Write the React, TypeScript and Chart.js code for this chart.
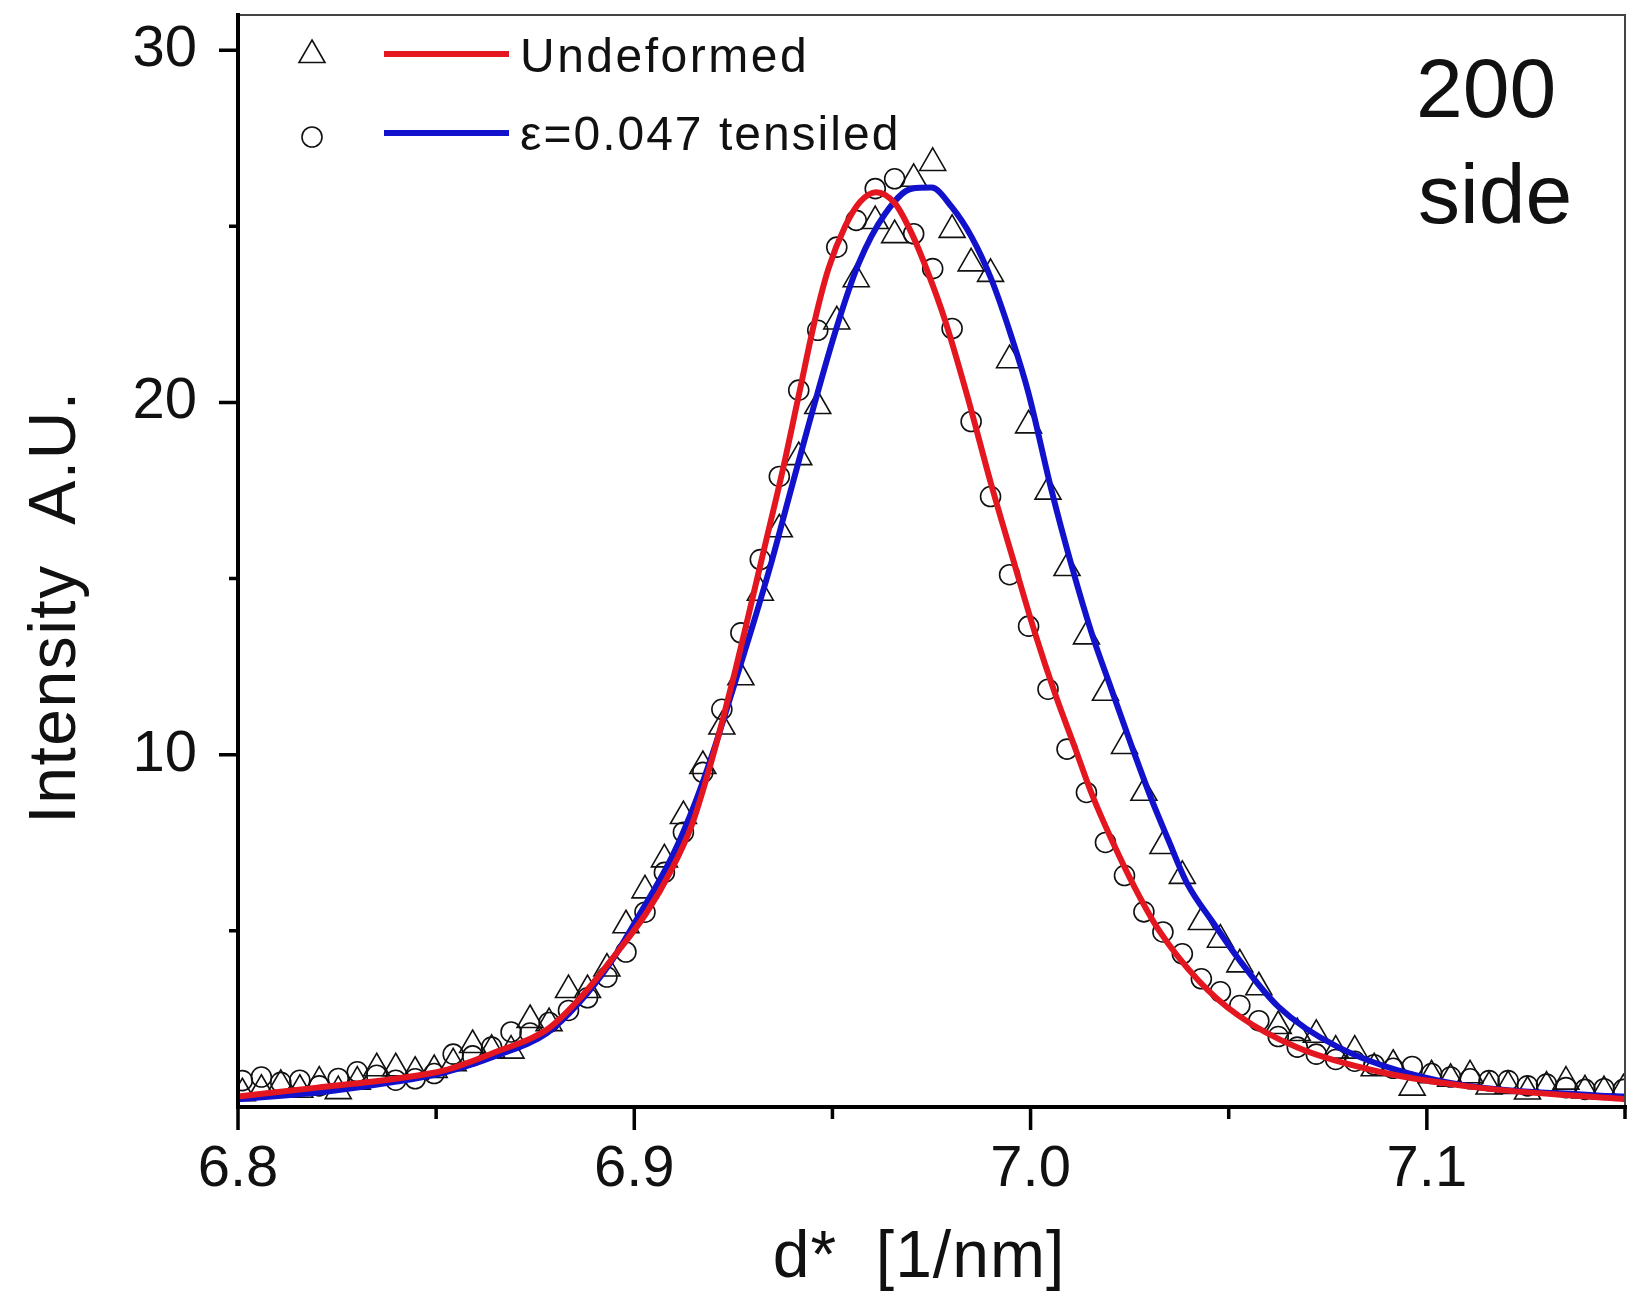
import React, { useEffect, useRef } from 'react';
import { Chart, registerables } from 'chart.js';

Chart.register(...registerables);

const W = 1628;
const H = 1308;
const FONT = '"Liberation Sans", Arial, Helvetica, sans-serif';
const RED = 'rgb(228, 22, 32)';
const BLUE = 'rgb(18, 18, 205)';

// measured data grid (d*, 1/nm)
const xGrid = [
  6.8011, 6.8059, 6.8108, 6.8156, 6.8205, 6.8253, 6.8301, 6.835, 6.8398, 6.8447,
  6.8495, 6.8543, 6.8592, 6.864, 6.8689, 6.8737, 6.8785, 6.8834, 6.8882, 6.8931,
  6.8979, 6.9027, 6.9076, 6.9124, 6.9173, 6.9221, 6.9269, 6.9318, 6.9366, 6.9415,
  6.9463, 6.9511, 6.956, 6.9608, 6.9657, 6.9705, 6.9753, 6.9802, 6.985, 6.9899,
  6.9947, 6.9995, 7.0044, 7.0092, 7.0141, 7.0189, 7.0237, 7.0286, 7.0334, 7.0383,
  7.0431, 7.0479, 7.0528, 7.0576, 7.0625, 7.0673, 7.0721, 7.077, 7.0818, 7.0867,
  7.0915, 7.0963, 7.1012, 7.106, 7.1109, 7.1157, 7.1205, 7.1254, 7.1302, 7.1351,
  7.1399, 7.1447, 7.1496,
];

// triangles (legend: Undeformed)
const triangleY = [
  0.39, 0.49, 0.63, 0.49, 0.72, 0.45, 0.72, 1.1, 1.1, 1.0,
  1.05, 1.24, 1.76, 1.62, 1.6, 2.47, 2.38, 3.32, 3.32, 3.93,
  5.16, 6.15, 7.03, 8.26, 9.68, 10.8, 12.2, 14.6, 16.4, 18.45,
  19.9, 22.3, 23.5, 25.15, 24.75, 26.35, 26.8, 24.9, 23.95, 23.65,
  21.2, 19.35, 17.47, 15.3, 13.36, 11.76, 10.25, 8.92, 7.41, 6.56,
  5.25, 4.75, 4.05, 3.4, 2.3, 2.1, 2.05, 1.6, 1.6, 1.1,
  1.2, 0.55, 0.9, 0.8, 0.9, 0.58, 0.6, 0.44, 0.58, 0.72,
  0.47, 0.45, 0.5,
];

// circles (legend: ε=0.047 tensiled)
const circleY = [
  0.75, 0.85, 0.7, 0.76, 0.6, 0.81, 1.0, 0.9, 0.76, 0.8,
  0.95, 1.5, 1.45, 1.7, 2.13, 2.1, 2.4, 2.74, 3.1, 3.69,
  4.4, 5.53, 6.66, 7.8, 9.5, 11.29, 13.46, 15.54, 17.9, 20.35,
  22.05, 24.41, 25.17, 26.07, 26.35, 24.79, 23.8, 22.1, 19.46, 17.33,
  15.11, 13.65, 11.86, 10.16, 8.93, 7.51, 6.57, 5.54, 4.97, 4.35,
  3.64, 3.27, 2.88, 2.45, 2.0, 1.7, 1.5, 1.35, 1.3, 1.2,
  1.1, 1.15, 0.95, 0.85, 0.8, 0.75, 0.75, 0.6, 0.65, 0.55,
  0.5, 0.52, 0.5,
];

// red fitted curve
const redFitX = [
  6.8, 6.82, 6.84, 6.852, 6.865, 6.878, 6.886, 6.894, 6.903, 6.9095,
  6.9145, 6.9188, 6.9221, 6.9255, 6.9288, 6.9331, 6.9373, 6.9415, 6.9457, 6.949,
  6.9532, 6.957, 6.961, 6.9658, 6.97, 6.9742, 6.9784, 6.984, 6.99, 6.9961,
  7.0011, 7.0061, 7.0112, 7.0154, 7.0204, 7.0262, 7.0322, 7.0423, 7.0524, 7.0675,
  7.088, 7.113, 7.15,
];
const redFitY = [
  0.3, 0.55, 0.81, 1.04, 1.56, 2.2, 3.05, 4.15, 5.5, 6.76,
  8.0, 9.55, 10.9, 12.4, 13.95, 16.0, 18.0, 20.2, 22.4, 23.8,
  25.0, 25.7, 25.97, 25.65, 24.8, 23.66, 22.34, 20.2, 17.7, 15.35,
  13.46, 11.76, 10.2, 8.9, 7.6, 6.25, 5.05, 3.6, 2.6, 1.68,
  1.0, 0.55, 0.22,
];

// blue fitted curve
const blueFitX = [
  6.8, 6.823, 6.84, 6.852, 6.865, 6.878, 6.886, 6.894, 6.901, 6.9095,
  6.9154, 6.9204, 6.9246, 6.9297, 6.9347, 6.939, 6.9436, 6.9507, 6.9566, 6.9633,
  6.97, 6.975, 6.9801, 6.9851, 6.9902, 6.9952, 6.9994, 7.0053, 7.0104, 7.0154,
  7.0204, 7.0255, 7.0305, 7.0347, 7.0395, 7.0463, 7.0525, 7.0625, 7.0776, 7.103,
  7.143, 7.15,
];
const blueFitY = [
  0.22, 0.45, 0.72, 0.98, 1.45, 2.1, 2.95, 4.1, 5.4, 7.1,
  8.65, 10.25, 11.76, 13.6, 15.5, 17.3, 19.2, 22.0, 23.94, 25.36,
  26.07, 26.1, 25.55, 24.7, 23.47, 21.86, 20.3, 17.5, 15.35, 13.46,
  11.86, 10.25, 8.74, 7.6, 6.35, 5.2, 4.2, 2.85, 1.7, 0.75,
  0.33, 0.3,
];

const xMajorTicks = [6.8, 6.9, 7.0, 7.1];
const xTickLabels = ['6.8', '6.9', '7.0', '7.1'];
const xMinorTicks = [6.85, 6.95, 7.05, 7.15];
const yMajorTicks = [10, 20, 30];
const yTickLabels = ['10', '20', '30'];
const yMinorTicks = [5, 15, 25];

const legendLabels = ['Undeformed', 'ε=0.047 tensiled'];
const panelLabels = ['200', 'side'];
const xTitle = 'd*  [1/nm]';
const yTitle = 'Intensity  A.U.';

function labelFor(values: number[], labels: string[], v: number): string {
  const i = values.findIndex((t) => Math.abs(t - v) < 1e-9);
  return i >= 0 ? labels[i] : '';
}

function drawTriangle(ctx: CanvasRenderingContext2D, x: number, y: number, r: number) {
  ctx.beginPath();
  ctx.moveTo(x, y - r);
  ctx.lineTo(x + r * 0.866, y + r / 2);
  ctx.lineTo(x - r * 0.866, y + r / 2);
  ctx.closePath();
  ctx.stroke();
}

const decorPlugin = {
  id: 'decor',
  afterDraw(chart: any) {
    const { ctx, chartArea: a } = chart;
    const xs = chart.scales.x;
    const ys = chart.scales.y;
    ctx.save();

    // top and right frame (thin)
    ctx.strokeStyle = '#444';
    ctx.lineWidth = 2;
    ctx.beginPath();
    ctx.moveTo(a.left, a.top);
    ctx.lineTo(a.right, a.top);
    ctx.lineTo(a.right, a.bottom);
    ctx.stroke();

    // left and bottom axes (thick)
    ctx.strokeStyle = '#000';
    ctx.lineWidth = 4;
    ctx.lineCap = 'square';
    ctx.beginPath();
    ctx.moveTo(a.left, a.top);
    ctx.lineTo(a.left, a.bottom);
    ctx.lineTo(a.right, a.bottom);
    ctx.stroke();

    // ticks
    ctx.lineCap = 'butt';
    ctx.lineWidth = 3.5;
    ctx.beginPath();
    xMajorTicks.forEach((v) => {
      const p = xs.getPixelForValue(v);
      ctx.moveTo(p, a.bottom);
      ctx.lineTo(p, a.bottom + 23);
    });
    xMinorTicks.forEach((v) => {
      const p = xs.getPixelForValue(v);
      ctx.moveTo(p, a.bottom);
      ctx.lineTo(p, a.bottom + 12);
    });
    yMajorTicks.forEach((v) => {
      const p = ys.getPixelForValue(v);
      ctx.moveTo(a.left - 19, p);
      ctx.lineTo(a.left, p);
    });
    yMinorTicks.forEach((v) => {
      const p = ys.getPixelForValue(v);
      ctx.moveTo(a.left - 9, p);
      ctx.lineTo(a.left, p);
    });
    ctx.stroke();

    // legend
    ctx.strokeStyle = '#111';
    ctx.lineWidth = 1.6;
    drawTriangle(ctx, 312, 55, 15);
    ctx.beginPath();
    ctx.arc(312, 137, 10, 0, Math.PI * 2);
    ctx.stroke();

    ctx.lineWidth = 6;
    ctx.strokeStyle = RED;
    ctx.beginPath();
    ctx.moveTo(384, 54);
    ctx.lineTo(509, 54);
    ctx.stroke();
    ctx.strokeStyle = BLUE;
    ctx.beginPath();
    ctx.moveTo(384, 133);
    ctx.lineTo(509, 133);
    ctx.stroke();

    ctx.fillStyle = '#111';
    ctx.textAlign = 'left';
    ctx.textBaseline = 'alphabetic';
    ctx.font = `48px ${FONT}`;
    (ctx as any).letterSpacing = '2.5px';
    ctx.fillText(legendLabels[0], 520, 72);
    (ctx as any).letterSpacing = '2px';
    ctx.fillText(legendLabels[1], 520, 150);

    // panel label
    (ctx as any).letterSpacing = '0px';
    ctx.font = `84px ${FONT}`;
    ctx.fillText(panelLabels[0], 1416, 117);
    ctx.fillText(panelLabels[1], 1418, 223);

    // axis titles
    ctx.font = `66px ${FONT}`;
    ctx.textAlign = 'center';
    (ctx as any).letterSpacing = '1px';
    ctx.fillText(xTitle, 919, 1277);
    ctx.save();
    ctx.translate(75, 607);
    ctx.rotate(-Math.PI / 2);
    (ctx as any).letterSpacing = '1.5px';
    ctx.fillText(yTitle, 0, 0);
    ctx.restore();

    ctx.restore();
  },
};

export default function App() {
  const canvasRef = useRef<HTMLCanvasElement | null>(null);

  useEffect(() => {
    const canvas = canvasRef.current;
    if (!canvas) return;
    const tickFont = { family: FONT, size: 58 };

    const chart = new Chart(canvas, {
      type: 'line',
      data: {
        datasets: [
          {
            label: 'fit red',
            data: redFitX.map((x, i) => ({ x, y: redFitY[i] })),
            borderColor: RED,
            borderWidth: 6,
            pointRadius: 0,
            fill: false,
            cubicInterpolationMode: 'monotone',
            order: 0,
          },
          {
            label: 'fit blue',
            data: blueFitX.map((x, i) => ({ x, y: blueFitY[i] })),
            borderColor: BLUE,
            borderWidth: 6,
            pointRadius: 0,
            fill: false,
            cubicInterpolationMode: 'monotone',
            order: 1,
          },
          {
            label: legendLabels[0],
            data: xGrid.map((x, i) => ({ x, y: triangleY[i] })),
            showLine: false,
            pointStyle: 'triangle',
            pointRadius: 15,
            pointBorderWidth: 1.6,
            pointBorderColor: '#111',
            pointBackgroundColor: 'rgba(0,0,0,0)',
            order: 2,
          },
          {
            label: legendLabels[1],
            data: xGrid.map((x, i) => ({ x, y: circleY[i] })),
            showLine: false,
            pointStyle: 'circle',
            pointRadius: 10,
            pointBorderWidth: 1.6,
            pointBorderColor: '#111',
            pointBackgroundColor: 'rgba(0,0,0,0)',
            order: 3,
          },
        ],
      } as any,
      options: {
        responsive: false,
        animation: false,
        devicePixelRatio: 1,
        events: [],
        layout: { autoPadding: false, padding: { left: 0, right: 3, top: 15, bottom: 0 } },
        plugins: { legend: { display: false }, tooltip: { enabled: false } },
        scales: {
          x: {
            type: 'linear',
            min: 6.8,
            max: 7.15,
            afterBuildTicks: (s: any) => {
              s.ticks = xMajorTicks.map((v) => ({ value: v }));
            },
            afterFit: (s: any) => {
              s.height = H - 1107;
              s.paddingLeft = 0;
              s.paddingRight = 0;
            },
            ticks: {
              callback: (v: any) => labelFor(xMajorTicks, xTickLabels, Number(v)),
              font: tickFont,
              color: '#111',
              padding: 28,
              autoSkip: false,
              maxRotation: 0,
              minRotation: 0,
            },
            grid: { display: false, drawTicks: false },
            border: { display: false },
          },
          y: {
            type: 'linear',
            min: 0,
            max: 31,
            afterBuildTicks: (s: any) => {
              s.ticks = yMajorTicks.map((v) => ({ value: v }));
            },
            afterFit: (s: any) => {
              s.width = 238;
              s.paddingTop = 0;
              s.paddingBottom = 0;
            },
            ticks: {
              callback: (v: any) => labelFor(yMajorTicks, yTickLabels, Number(v)),
              font: tickFont,
              color: '#111',
              padding: 41,
              autoSkip: false,
            },
            grid: { display: false, drawTicks: false },
            border: { display: false },
          },
        },
      } as any,
      plugins: [decorPlugin],
    });

    return () => chart.destroy();
  }, []);

  return (
    <div style={{ position: 'absolute', left: 0, top: 0, width: W, height: H, background: '#fff' }}>
      <canvas ref={canvasRef} width={W} height={H} style={{ display: 'block' }} />
    </div>
  );
}
